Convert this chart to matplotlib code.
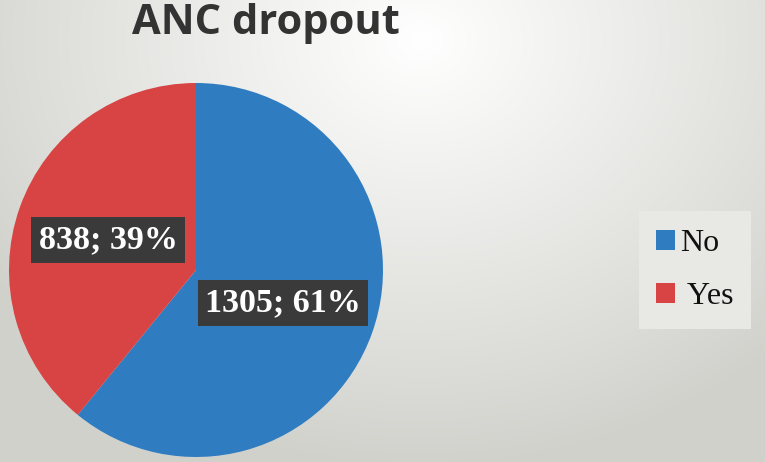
import numpy as np
import matplotlib.pyplot as plt
from matplotlib.patches import Patch

# Данные
categories = ['No', ' Yes']
values = [1305, 838]
percents = [61, 39]
colors = ['#2F7DC0', '#D84444']

fig = plt.figure(figsize=(7.65, 4.62), dpi=100)

# Фон: радиальный градиент
bg = fig.add_axes([0, 0, 1, 1])
yy, xx = np.mgrid[0:462, 0:765]
d = np.sqrt(((xx - 420) / 520.0) ** 2 + ((yy - 40) / 430.0) ** 2)
d = np.clip(d, 0, 1)
top = np.array([1.0, 1.0, 1.0])
edge = np.array([0.82, 0.82, 0.80])
img = top[None, None, :] * (1 - d[..., None]) + edge[None, None, :] * d[..., None]
bg.imshow(img, extent=[0, 765, 462, 0], aspect='auto')
bg.set_axis_off()

# Круговая диаграмма
ax = fig.add_axes([9 / 765, 5 / 462, 374 / 765, 374 / 462])
ax.pie(values, colors=colors, startangle=90, counterclock=False,
       wedgeprops=dict(linewidth=0))
ax.set_xlim(-1, 1)
ax.set_ylim(-1, 1)
ax.set_aspect('equal')

# Подписи
label_pos = [(0.465, -0.176), (-0.47, 0.16)]
for v, p, (x, y) in zip(values, percents, label_pos):
    ax.text(x, y, f'{v}; {p}%', ha='center', va='center', color='white',
            fontsize=24.5, fontweight='bold', family='Liberation Serif',
            bbox=dict(boxstyle='square,pad=0.22', facecolor='#3a3a3a', edgecolor='none'))

# Заголовок
fig.text(266 / 765, 1 - 23 / 462, 'ANC dropout', ha='center', va='center',
         fontsize=30, fontweight='bold', family='Open Sans', color='#333333')

# Легенда
handles = [Patch(facecolor=c, edgecolor='none') for c in colors]
leg = fig.legend(handles, categories, loc='center',
                 bbox_to_anchor=(695 / 765, 1 - 270 / 462),
                 prop={'family': 'Liberation Serif', 'size': 23},
                 frameon=True, fancybox=False, handlelength=0.6, handleheight=0.6,
                 handletextpad=0.15, labelspacing=0.75, borderpad=0.55)
leg.get_frame().set_facecolor('#E8E8E5')
leg.get_frame().set_edgecolor('none')
leg.get_frame().set_alpha(1)
for t in leg.get_texts():
    t.set_color('#111111')

fig.savefig('out.png', dpi=100)
